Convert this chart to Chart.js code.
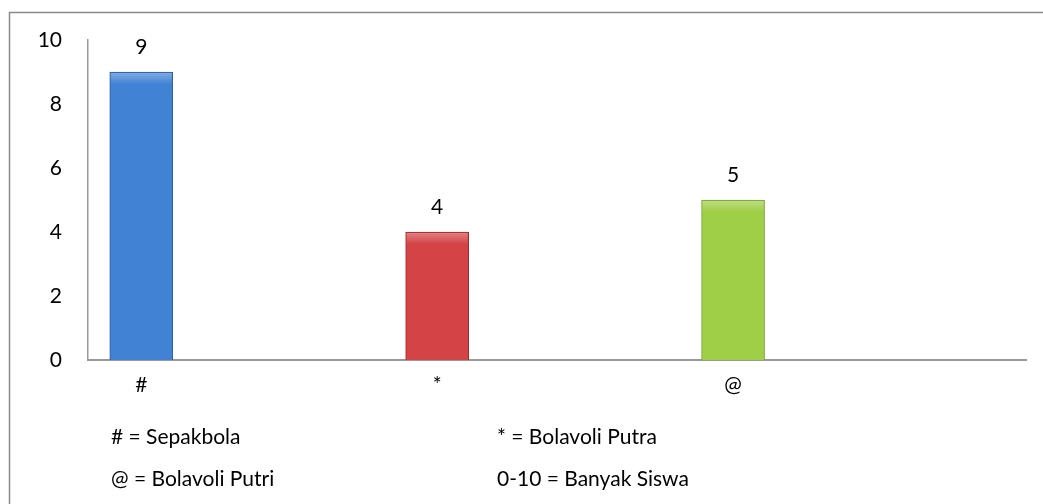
<!DOCTYPE html>
<html>
<head>
<meta charset="utf-8">
<script src="https://cdn.jsdelivr.net/npm/chart.js@4"></script>
<style>
  body { margin: 0; background: #fff; }
  #wrap { width: 1043px; height: 504px; }
</style>
</head>
<body>
<div id="wrap"><canvas id="bar_chart" width="1043" height="504"></canvas></div>
<script>
// data
var categories = ['#', '*', '@'];
var students = [9, 4, 5];
var y_ticks = [0, 2, 4, 6, 8, 10];
var notes = ['# = Sepakbola', '* = Bolavoli Putra', '@ = Bolavoli Putri', '0-10 = Banyak Siswa'];

var bar_colors = [
    ['#2c5d9f', '#4282d4'],
    ['#a02a2c', '#d44346'],
    ['#789f30', '#9fce47']
];

var font_name = 'Lato, "Open Sans", sans-serif';

function barFill(context){
    var el = context.element;
    var c = bar_colors[context.dataIndex];
    if(!el || !el.width) return c[1];
    var ctx = context.chart.ctx;
    var x0 = el.x - el.width / 2;
    var g = ctx.createLinearGradient(x0, 0, x0 + el.width, 0);
    g.addColorStop(0, c[0]);
    g.addColorStop(0.14, c[1]);
    g.addColorStop(0.86, c[1]);
    g.addColorStop(1, c[0]);
    return g;
}

// frame + labels above bars + notes below
var extras = {
    id: 'extras',
    beforeDraw: function(chart){
        var ctx = chart.ctx;
        ctx.save();
        ctx.strokeStyle = '#8a8a8a';
        ctx.lineWidth = 1.5;
        ctx.strokeRect(9.5, 12.5, 1100, 600);
        ctx.restore();
    },
    afterDatasetsDraw: function(chart){
        var ctx = chart.ctx;
        var meta = chart.getDatasetMeta(0);
        ctx.save();
        // light bevel on top of each bar
        meta.data.forEach(function(bar, i){
            var x0 = bar.x - bar.width / 2;
            var g = ctx.createLinearGradient(0, bar.y, 0, bar.y + 12);
            g.addColorStop(0, 'rgba(255,255,255,0.35)');
            g.addColorStop(1, 'rgba(255,255,255,0)');
            ctx.fillStyle = g;
            ctx.fillRect(x0 + 1, bar.y + 1, bar.width - 2, 12);
        });

        ctx.fillStyle = '#000';
        ctx.font = '21px ' + font_name;
        ctx.textAlign = 'center';
        ctx.textBaseline = 'middle';
        meta.data.forEach(function(bar, i){
            ctx.fillText(String(students[i]), bar.x, bar.y - 25);
        });

        ctx.font = '21px ' + font_name;
        ctx.textAlign = 'left';
        var cols = [111, 497];
        var rows = [437, 479];
        for(var i = 0; i < notes.length; i++){
            ctx.fillText(notes[i], cols[i % 2], rows[Math.floor(i / 2)]);
        }
        ctx.restore();
    }
};

var sale_chart = new Chart(document.getElementById('bar_chart'), {
    type: 'bar',
    data: {
        datasets: [{
            data: students.map(function(v, i){ return {x: i, y: v}; }),
            backgroundColor: barFill,
            borderColor: function(context){ return bar_colors[context.dataIndex][0]; },
            borderWidth: 1,
            barThickness: 63
        }]
    },
    options: {
        responsive: false,
        animation: false,
        layout: { padding: { top: 40, right: 17, left: 0, bottom: 0 } },
        plugins: {
            legend: { display: false },
            tooltip: { enabled: false }
        },
        scales: {
            x: {
                type: 'linear',
                offset: false,
                min: -0.18,
                max: 2.99,
                grid: { display: false, drawTicks: false, offset: false },
                border: { display: true, color: '#999', width: 2 },
                afterBuildTicks: function(scale){
                    scale.ticks = categories.map(function(c, i){ return {value: i}; });
                },
                afterFit: function(scale){ scale.height = 144; },
                ticks: {
                    padding: 13,
                    color: '#000',
                    font: { family: font_name, size: 21 },
                    callback: function(v){ return categories[v]; }
                }
            },
            y: {
                min: 0,
                max: 10,
                grid: { display: false, drawTicks: false },
                border: { display: true, color: '#999', width: 1.5 },
                afterBuildTicks: function(scale){
                    scale.ticks = y_ticks.map(function(t){ return {value: t}; });
                },
                afterFit: function(scale){ scale.width = 88; },
                ticks: {
                    padding: 26,
                    color: '#000',
                    font: { family: font_name, size: 21 }
                }
            }
        }
    },
    plugins: [extras]
});
</script>
</body>
</html>
